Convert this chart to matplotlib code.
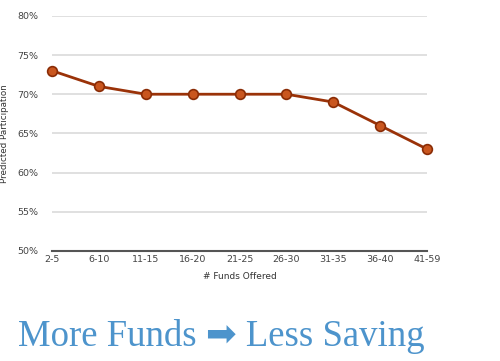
import matplotlib
matplotlib.use("Agg")
import matplotlib.pyplot as plt
from matplotlib.ticker import FuncFormatter

categories = ["2-5", "6-10", "11-15", "16-20", "21-25", "26-30", "31-35", "36-40", "41-59"]
participation = [73, 71, 70, 70, 70, 70, 69, 66, 63]
yticks = [50, 55, 60, 65, 70, 75, 80]

fig = plt.figure(figsize=(5, 3.61), dpi=100)
fig.patch.set_facecolor("white")
ax = fig.add_axes([0.104, 0.305, 0.75, 0.651])

x = list(range(len(categories)))
ax.plot(x, participation, color="#9a3208", lw=2.0, marker="o", ms=7,
        markerfacecolor="#c9561f", markeredgecolor="#8a2c06", markeredgewidth=1.2,
        zorder=3, clip_on=False)

ax.set_xlim(0, len(categories) - 1)
ax.set_ylim(50, 80)
ax.set_yticks(yticks)
ax.yaxis.set_major_formatter(FuncFormatter(lambda v, p: f"{int(v)}%"))
ax.set_xticks(x)
ax.set_xticklabels(categories)
ax.grid(axis="y", color="#dadada", lw=1.2)
ax.set_axisbelow(True)
for s in ["top", "right", "left"]:
    ax.spines[s].set_visible(False)
ax.spines["bottom"].set_color("#555555")
ax.spines["bottom"].set_linewidth(1.5)
ax.tick_params(axis="both", length=0, labelsize=6.8, colors="#444444")
ax.tick_params(axis="y", pad=10)
ax.tick_params(axis="x", pad=3)
ax.set_ylabel("Predicted Participation", fontsize=6.3, color="#333333")
ax.yaxis.set_label_coords(-0.115, 0.5)
ax.set_xlabel("# Funds Offered", fontsize=6.5, color="#333333", labelpad=6)

fig.text(0.035, 0.042, "More Funds \u27a1 Less Saving", fontsize=26.5, color="#4d94cc",
         family=["Liberation Serif", "DejaVu Sans"])

fig.savefig("out.png", dpi=100, facecolor="white")
